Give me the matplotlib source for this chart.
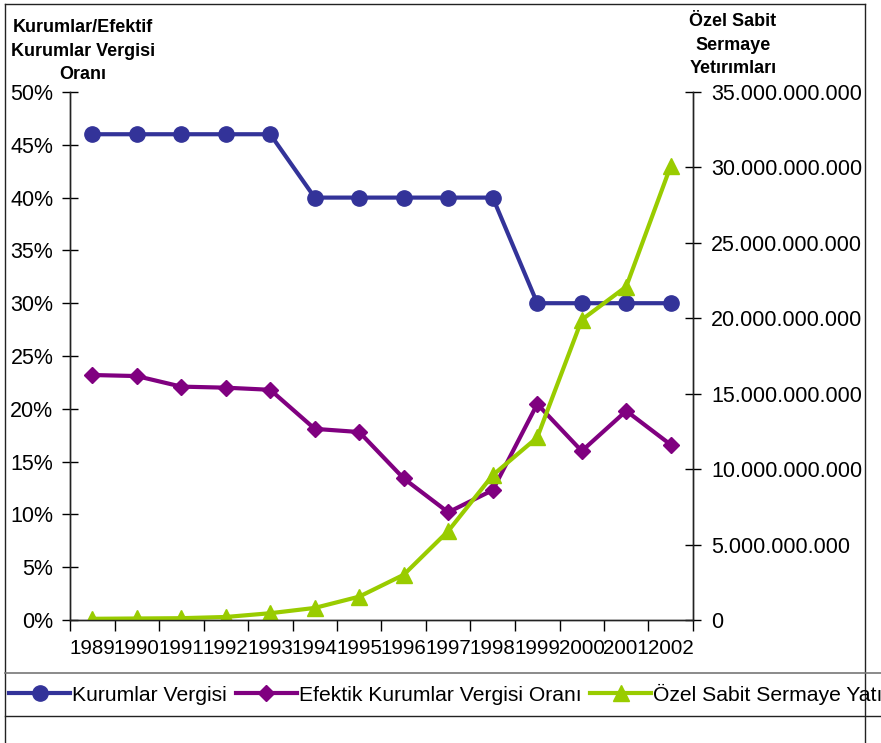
import numpy as np
import matplotlib.pyplot as plt
from matplotlib.lines import Line2D
from matplotlib.ticker import FuncFormatter, FixedLocator

plt.rcParams['font.family'] = ['Liberation Sans', 'DejaVu Sans']

years = ["1989", "1990", "1991", "1992", "1993", "1994", "1995",
         "1996", "1997", "1998", "1999", "2000", "2001", "2002"]
kurumlar = [46, 46, 46, 46, 46, 40, 40, 40, 40, 40, 30, 30, 30, 30]
efektif = [23.2, 23.1, 22.1, 22.0, 21.8, 18.1, 17.8,
           13.4, 10.2, 12.3, 20.45, 16.0, 19.8, 16.6]
ozel = [0.08e9, 0.1e9, 0.12e9, 0.2e9, 0.45e9, 0.8e9, 1.55e9,
        3.0e9, 5.9e9, 9.6e9, 12.1e9, 19.9e9, 22.1e9, 30.1e9]

blue = "#333399"
purple = "#800080"
green = "#99cc00"

W, H = 881, 743
fig = plt.figure(figsize=(W / 100, H / 100), dpi=100)
ax = fig.add_axes([70 / W, (H - 620) / H, (693 - 70) / W, (620 - 92) / H])
ax2 = ax.twinx()

x = np.arange(len(years))
ax.plot(x, kurumlar, color=blue, lw=3, marker='o', ms=11, label="Kurumlar Vergisi")
ax.plot(x, efektif, color=purple, lw=3, marker='D', ms=8.5, label="Efektik Kurumlar Vergisi Oranı")
ax2.plot(x, ozel, color=green, lw=3, marker='^', ms=11, label="Özel Sabit Sermaye Yatırımları")

ax.set_xlim(-0.5, len(years) - 0.5)
ax.set_ylim(0, 50)
ax2.set_ylim(0, 35e9)

ax.set_yticks(np.arange(0, 51, 5))
ax.yaxis.set_major_formatter(FuncFormatter(lambda v, p: f"{int(v)}%"))
ax2.set_yticks(np.arange(0, 35e9 + 1, 5e9))
ax2.yaxis.set_major_formatter(
    FuncFormatter(lambda v, p: f"{int(round(v)):,}".replace(",", ".")))

ax.set_xticks(x)
ax.set_xticklabels(years)
ax.xaxis.set_minor_locator(FixedLocator(np.arange(-0.5, len(years), 1)))
ax.tick_params(axis='x', which='major', length=0, pad=14, labelsize=14.8)
ax.tick_params(axis='x', which='minor', length=8, direction='out', width=1)
ax.tick_params(axis='y', direction='inout', length=12, width=1, pad=6, labelsize=15.5)
ax2.tick_params(axis='y', direction='inout', length=12, width=1, pad=7, labelsize=15.5)

for a in (ax, ax2):
    a.spines['top'].set_visible(False)
    for s in ('left', 'right', 'bottom'):
        a.spines[s].set_linewidth(1)
        a.spines[s].set_color('#222222')

fig.text(83 / W, 1 - 19 / H, "Kurumlar/Efektif\nKurumlar Vergisi\nOranı",
         ha='center', va='top', fontsize=13, fontweight='bold', linespacing=1.5)
fig.text(733 / W, 1 - 13 / H, "Özel Sabit\nSermaye\nYetırımları",
         ha='center', va='top', fontsize=13, fontweight='bold', linespacing=1.5)

# outer frame and legend box lines
frame = dict(color='#222222', lw=1, transform=fig.transFigure)
fig.add_artist(Line2D([5 / W, 5 / W], [0, 1 - 4 / H], **frame))
fig.add_artist(Line2D([865 / W, 865 / W], [0, 1 - 4 / H], **frame))
fig.add_artist(Line2D([5 / W, 865 / W], [1 - 4 / H, 1 - 4 / H], **frame))
fig.add_artist(Line2D([5 / W, 1], [1 - 673 / H, 1 - 673 / H], color='#777777', lw=1.2,
                      transform=fig.transFigure))
fig.add_artist(Line2D([5 / W, 1], [1 - 716 / H, 1 - 716 / H], **frame))

handles = ax.get_lines() + ax2.get_lines()
fig.legend(handles=handles, labels=[h.get_label() for h in handles],
           loc='center left', bbox_to_anchor=(9 / W, 1 - 694 / H), ncol=3,
           frameon=False, fontsize=15.2, handlelength=2.9, handletextpad=0.1,
           columnspacing=0.4, borderaxespad=0, borderpad=0)

fig.savefig("out.png", dpi=100)
